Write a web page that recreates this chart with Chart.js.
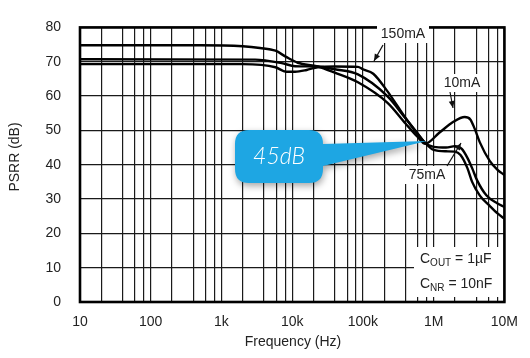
<!DOCTYPE html>
<html><head><meta charset="utf-8">
<script src="https://cdn.jsdelivr.net/npm/chart.js@4"></script>
<style>html,body{margin:0;padding:0;background:#fff}#wrap{width:530px;height:358px;position:relative}</style>
</head><body><div id="wrap"><canvas id="c"></canvas></div>
<script>
// ---- data ----
const freq10mA = [10, 500, 2000, 3500, 5800, 8200, 12000, 23000, 40000, 85000, 223000, 400000, 600000, 760000, 1200000, 1900000, 2750000, 3300000, 3800000, 4500000, 6200000, 8000000, 10000000];
const psrr10mA = [74.8, 74.8, 74.5, 74.0, 73.2, 71.4, 69.7, 68.6, 66.8, 64.0, 58.0, 52.0, 48.0, 46.1, 49.3, 52.5, 53.9, 53.2, 50.5, 46.5, 41.1, 38.5, 37.0];

const freq75mA = [10, 3000, 7100, 11000, 23000, 40000, 85000, 223000, 400000, 600000, 760000, 1000000, 1500000, 2000000, 2500000, 3000000, 3500000, 4100000, 5600000, 8000000, 10000000];
const psrr75mA = [70.7, 70.6, 69.6, 68.7, 68.6, 67.8, 66.3, 59.9, 53.5, 49.0, 46.3, 45.2, 45.0, 45.4, 44.6, 42.0, 39.0, 35.5, 31.0, 28.7, 27.7];

const freq150mA = [10, 2000, 5800, 8200, 11000, 16000, 23000, 40000, 85000, 100000, 140000, 220000, 420000, 740000, 1000000, 1500000, 2000000, 2400000, 3000000, 3500000, 4500000, 6200000, 8000000, 10000000];
const psrr150mA = [69.3, 69.3, 68.4, 67.1, 67.1, 67.6, 68.4, 68.6, 68.5, 67.8, 66.5, 61.5, 53.0, 46.6, 44.3, 43.9, 43.8, 42.8, 39.0, 35.0, 31.0, 28.0, 25.8, 24.3];

const seriesNames = ['10mA', '75mA', '150mA'];
const xDecadeLabels = {10: '10', 100: '100', 1000: '1k', 10000: '10k', 100000: '100k', 1000000: '1M', 10000000: '10M'};
const xGridMultipliers = [1, 2, 4, 6, 8];
const yTicks = [0, 10, 20, 30, 40, 50, 60, 70, 80];

const toPts = (f, v) => f.map((x, i) => ({x: x, y: v[i]}));

const lineStyle = {borderColor: '#000', borderWidth: 2.4, pointRadius: 0, fill: false, cubicInterpolationMode: 'monotone'};

const FONT = "'Liberation Sans', Arial, sans-serif";

function arrow(ctx, x1, y1, x2, y2) {
  ctx.save();
  ctx.strokeStyle = '#111'; ctx.fillStyle = '#111'; ctx.lineWidth = 1.2;
  ctx.beginPath(); ctx.moveTo(x1, y1); ctx.lineTo(x2, y2); ctx.stroke();
  const a = Math.atan2(y2 - y1, x2 - x1), L = 7, W = 3;
  ctx.beginPath();
  ctx.moveTo(x2, y2);
  ctx.lineTo(x2 - L * Math.cos(a) + W * Math.sin(a), y2 - L * Math.sin(a) - W * Math.cos(a));
  ctx.lineTo(x2 - L * Math.cos(a) - W * Math.sin(a), y2 - L * Math.sin(a) + W * Math.cos(a));
  ctx.closePath(); ctx.fill();
  ctx.restore();
}

function label(ctx, text, cx, cy, w, h) {
  ctx.save();
  ctx.fillStyle = '#fff';
  ctx.fillRect(cx - w / 2, cy - h / 2, w, h);
  ctx.fillStyle = '#222';
  ctx.font = '14px ' + FONT;
  ctx.textAlign = 'center'; ctx.textBaseline = 'middle';
  ctx.fillText(text, cx, cy);
  ctx.restore();
}

const overlay = {
  id: 'overlay',
  beforeDatasetsDraw(chart) {
    const ctx = chart.ctx;
    // white box behind capacitor note (interrupts grid)
    ctx.save();
    ctx.fillStyle = '#fff';
    ctx.fillRect(414, 247, 91, 50);
    ctx.restore();
  },
  afterDraw(chart) {
    const ctx = chart.ctx, a = chart.chartArea;
    // frame
    ctx.save();
    ctx.strokeStyle = '#000'; ctx.lineWidth = 2.6;
    ctx.strokeRect(a.left, a.top, a.right - a.left, a.bottom - a.top);
    ctx.restore();

    // curve labels
    label(ctx, '150mA', 403, 34, 52, 18);
    label(ctx, '10mA', 462, 83, 44, 18);
    label(ctx, '75mA', 427, 175, 44, 18);
    arrow(ctx, 383, 45, 374, 61);
    arrow(ctx, 450, 92, 453, 108);
    arrow(ctx, 447, 166, 461, 143);

    // capacitor note
    ctx.save();
    ctx.fillStyle = '#222';
    ctx.textBaseline = 'alphabetic';
    ctx.textAlign = 'left';
    let x = 420, y = 263;
    ctx.font = '14px ' + FONT; ctx.fillText('C', x, y); x += ctx.measureText('C').width;
    ctx.font = '10px ' + FONT; ctx.fillText('OUT', x, y + 3); x += ctx.measureText('OUT').width;
    ctx.font = '14px ' + FONT; ctx.fillText(' = 1\u00B5F', x, y);
    x = 420; y = 288;
    ctx.fillText('C', x, y); x += ctx.measureText('C').width;
    ctx.font = '10px ' + FONT; ctx.fillText('NR', x, y + 3); x += ctx.measureText('NR').width;
    ctx.font = '14px ' + FONT; ctx.fillText(' = 10nF', x, y);
    ctx.restore();

    // callout
    ctx.save();
    ctx.shadowColor = 'rgba(0,0,0,0.35)';
    ctx.shadowBlur = 7; ctx.shadowOffsetX = 1; ctx.shadowOffsetY = 3;
    ctx.fillStyle = '#1ea6e3';
    const bx = 235, by = 130, bw = 88, bh = 53, r = 14;
    ctx.beginPath();
    ctx.moveTo(bx + r, by);
    ctx.lineTo(bx + bw - r, by);
    ctx.quadraticCurveTo(bx + bw, by, bx + bw, by + r);
    ctx.lineTo(bx + bw, by + 14);
    ctx.lineTo(427, 141);
    ctx.lineTo(bx + bw, by + 36);
    ctx.lineTo(bx + bw, by + bh - r);
    ctx.quadraticCurveTo(bx + bw, by + bh, bx + bw - r, by + bh);
    ctx.lineTo(bx + r, by + bh);
    ctx.quadraticCurveTo(bx, by + bh, bx, by + bh - r);
    ctx.lineTo(bx, by + r);
    ctx.quadraticCurveTo(bx, by, bx + r, by);
    ctx.closePath();
    ctx.fill();
    ctx.restore();
    ctx.save();
    ctx.fillStyle = '#fff';
    ctx.font = "italic 300 23px Lato, 'Open Sans', sans-serif";
    ctx.textAlign = 'center'; ctx.textBaseline = 'middle';
    ctx.fillText('45dB', 279, 157);
    ctx.restore();

    // axis titles
    ctx.save();
    ctx.fillStyle = '#222';
    ctx.font = '14px ' + FONT;
    ctx.textAlign = 'center'; ctx.textBaseline = 'middle';
    ctx.fillText('Frequency (Hz)', 293, 342);
    ctx.translate(15, 157); ctx.rotate(-Math.PI / 2);
    ctx.fillText('PSRR (dB)', 0, 0);
    ctx.restore();
  }
};

new Chart(document.getElementById('c'), {
  type: 'line',
  data: {
    datasets: [
      Object.assign({label: seriesNames[0], data: toPts(freq10mA, psrr10mA)}, lineStyle),
      Object.assign({label: seriesNames[1], data: toPts(freq75mA, psrr75mA)}, lineStyle),
      Object.assign({label: seriesNames[2], data: toPts(freq150mA, psrr150mA)}, lineStyle)
    ]
  },
  options: {
    responsive: true, maintainAspectRatio: false, animation: false,
    layout: {padding: {left: 0, right: 23, top: 13, bottom: 0}},
    plugins: {legend: {display: false}, tooltip: {enabled: false}},
    scales: {
      x: {
        type: 'logarithmic', min: 10, max: 10000000,
        afterBuildTicks(scale) {
          const t = [];
          for (let d = 10; d < 10000000; d *= 10) xGridMultipliers.forEach(m => t.push({value: d * m}));
          t.push({value: 10000000});
          scale.ticks = t;
        },
        afterFit(scale) { scale.height = 56; },
        grid: {color: '#1a1a1a', lineWidth: 1.2, drawTicks: false},
        border: {display: false},
        ticks: {
          autoSkip: false, maxRotation: 0, padding: 12,
          color: '#222', font: {family: FONT, size: 14},
          callback(v) { return xDecadeLabels[v] !== undefined ? xDecadeLabels[v] : ''; }
        }
      },
      y: {
        min: 0, max: 80,
        afterBuildTicks(scale) { scale.ticks = yTicks.map(v => ({value: v})); },
        afterFit(scale) { scale.width = 80; },
        grid: {color: '#1a1a1a', lineWidth: 1.2, drawTicks: false},
        border: {display: false},
        ticks: {padding: 19, color: '#222', font: {family: FONT, size: 14}}
      }
    }
  },
  plugins: [overlay]
});
</script></body></html>
